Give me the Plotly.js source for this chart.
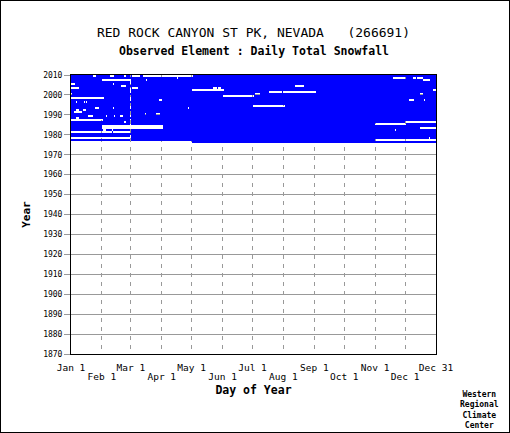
<!DOCTYPE html>
<html><head><meta charset="utf-8">
<script src="https://cdn.plot.ly/plotly-3.0.1.min.js"></script>
<style>
html,body{margin:0;padding:0;background:#fff}
#wrap{position:relative;width:510px;height:433px}
#frame{position:absolute;left:0;top:0;width:508px;height:431px;border:1px solid #000;pointer-events:none}
</style>
</head><body>
<div id="wrap"><div id="chart" style="width:510px;height:433px"></div><div id="frame"></div></div>
<script>
// ---- data ----
const firstYear = 1976;
const lastYear = 2009;
const recordStartDay = 121;          // May 1 of first year (day index, 366-day calendar)
const feb29Index = 59;
const leapYears = [1976, 1980, 1984, 1988, 1992, 1996, 2000, 2004, 2008];

// missing-data periods (day index inclusive, 366-day calendar)
const gapYear  = [2009,2009,2009,2009,2009, 2008,2008,2008,2008, 2007,2007,2007, 2005,2005, 2004,2004,
                  2003,2003,2003,2003, 2002,2002, 2001,2001, 2000,2000,2000, 1999, 1998, 1997,1997,1997,
                  1996,1996,1996, 1994, 1993,1993,1993, 1992,1992, 1991, 1990,1990, 1989,1989,1989,1989,
                  1988, 1987, 1986,1986, 1985, 1984, 1983,1983, 1982,1982,1982, 1981,1981, 1978,1978, 1977];
const gapStart = [22,39,53,61,72, 106,323,343,347, 31,75,353, 0,42, 50,225,
                  0,61,142,147, 121,363, 199,213, 0,185,350, 152, 0, 88,339,354,
                  5,13,15, 182, 24,42,117, 5,12, 3, 74,85, 17,35,43,49,
                  5, 0, 53,335, 305, 31, 31,350, 32,41,325, 0,42, 0,359, 305];
const gapEnd   = [24,42,54,68,121, 106,335,345,352, 59,75,359, 3,42, 54,233,
                  7,66,145,149, 152,365, 211,245, 0,189,352, 183, 32, 90,343,354,
                  5,13,15, 214, 27,42,117, 7,14, 10, 74,88, 21,35,43,51,
                  7, 31, 54,365, 335, 91, 91,365, 34,41,325, 40,59, 59,359, 365];

const monthTickDays   = [0, 31, 60, 91, 121, 152, 182, 213, 244, 274, 305, 335, 366];
const monthTickLabels = ['Jan 1','Feb 1','Mar 1','Apr 1','May 1','Jun 1','Jul 1',
                         'Aug 1','Sep 1','Oct 1','Nov 1','Dec 1','Dec 31'];
const yearTicks = [1870,1880,1890,1900,1910,1920,1930,1940,1950,1960,1970,1980,1990,2000,2010];

// ---- build matrix ----
const nDays = 366;
const xEdges = [];
for (let d = 0; d <= nDays; d++) xEdges.push(d);
const yEdges = [];
const z = [];
for (let y = firstYear; y <= lastYear; y++) {
  yEdges.push(y);
  const row = [];
  for (let d = 0; d < nDays; d++) {
    let v = 1;
    if (y === firstYear && d < recordStartDay) v = null;
    if (d === feb29Index && leapYears.indexOf(y) < 0) v = null;
    row.push(v);
  }
  z.push(row);
}
yEdges.push(lastYear + 1);
for (let i = 0; i < gapYear.length; i++) {
  const r = gapYear[i] - firstYear;
  for (let d = gapStart[i]; d <= gapEnd[i]; d++) z[r][d] = null;
}

const mono = 'DejaVu Sans Mono, Liberation Mono, monospace';
const evenDays = monthTickDays.filter((d, i) => i % 2 === 0);
const evenLabels = monthTickLabels.filter((d, i) => i % 2 === 0);
const oddDays = monthTickDays.filter((d, i) => i % 2 === 1);
const oddLabels = monthTickLabels.filter((d, i) => i % 2 === 1);

const trace = {
  type: 'heatmap', x: xEdges, y: yEdges, z: z,
  colorscale: [[0, '#0000ff'], [1, '#0000ff']], zmin: 0, zmax: 1,
  showscale: false, hoverinfo: 'skip', zsmooth: false
};
// empty helper trace so the second (lower row) label axis is drawn
const helper = {type: 'scatter', x: [], y: [], xaxis: 'x2', yaxis: 'y', hoverinfo: 'skip', showlegend: false};

const layout = {
  width: 510, height: 433,
  margin: {l: 71, r: 74, t: 75, b: 79},
  paper_bgcolor: '#fff', plot_bgcolor: '#fff',
  showlegend: false,
  title: {text: 'RED ROCK CANYON ST PK, NEVADA\u00a0\u00a0\u00a0(266691)',
          font: {family: mono, size: 13, color: '#000'},
          x: 0.5, xref: 'paper', xanchor: 'center', y: 1 - 32 / 433, yref: 'container', yanchor: 'middle'},
  xaxis: {
    range: [0, 366], tickmode: 'array', tickvals: monthTickDays, ticktext: monthTickDays.map((d, i) => i % 2 === 0 ? monthTickLabels[i] : ''),
    ticks: '', ticklabelstandoff: 5, showgrid: true, gridcolor: '#999', griddash: '4px,5px', gridwidth: 1,
    showline: true, linecolor: '#000', linewidth: 1, mirror: true, zeroline: false,
    tickfont: {family: mono, size: 9.5, color: '#000'}, tickangle: 0,
    title: {text: '<b>Day of Year</b>', font: {family: mono, size: 11.5, color: '#000'}, standoff: 13},
    fixedrange: true
  },
  xaxis2: {
    overlaying: 'x', matches: 'x', anchor: 'y', side: 'bottom',
    range: [0, 366], tickmode: 'array', tickvals: oddDays, ticktext: oddLabels,
    ticks: '', ticklabelstandoff: 15, showgrid: false, showline: false, zeroline: false,
    tickfont: {family: mono, size: 9.5, color: '#000'}, tickangle: 0, fixedrange: true
  },
  yaxis: {
    range: [1870, 2010], tickmode: 'array', tickvals: yearTicks, ticktext: yearTicks.map(String),
    ticks: 'outside', ticklen: 6, tickcolor: '#999', tickwidth: 1,
    showgrid: true, gridcolor: '#999', gridwidth: 1,
    showline: true, linecolor: '#000', linewidth: 1, mirror: true, zeroline: false,
    tickfont: {family: mono, size: 8, color: '#000'},
    title: {text: '<b>Year</b>', font: {family: mono, size: 11, color: '#000'}, standoff: 10},
    fixedrange: true
  },
  annotations: [
    {text: '<b>Observed Element : Daily Total Snowfall</b>', xref: 'paper', yref: 'paper',
     x: 0.5, y: (354 - 51) / 279, xanchor: 'center', yanchor: 'middle', showarrow: false,
     font: {family: mono, size: 11.5, color: '#000'}},
    {text: '<b>Western<br>Regional<br>Climate<br>Center</b>', xref: 'paper', yref: 'paper',
     x: (479 - 71) / 365, y: (354 - 410) / 279, xanchor: 'center', yanchor: 'middle', showarrow: false,
     align: 'center', font: {family: mono, size: 8, color: '#000'}}
  ]
};

Plotly.newPlot('chart', [trace, helper], layout, {staticPlot: true, displayModeBar: false});
</script>
</body></html>
